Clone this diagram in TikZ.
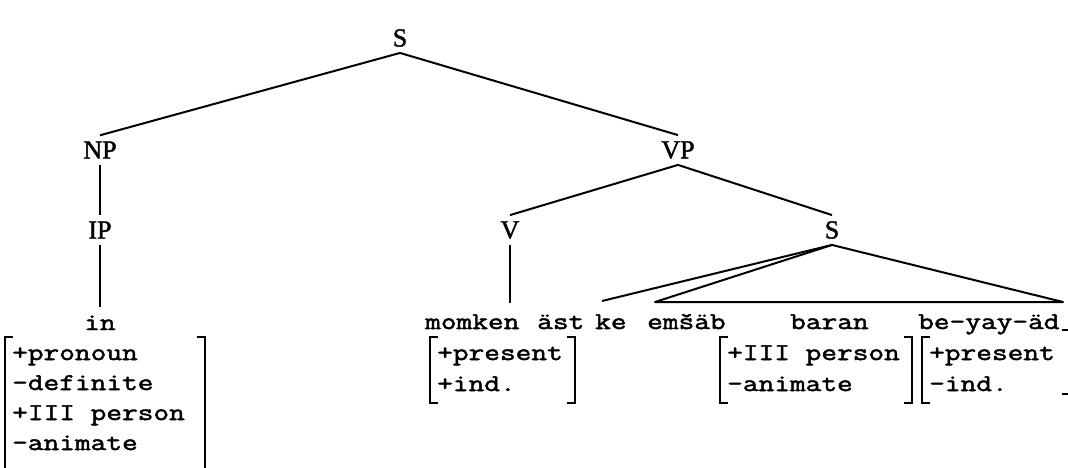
\documentclass[tikz,border=0pt]{standalone}
\usepackage{fontspec}
\newfontfamily\twfont[FakeStretch=1.27,FakeBold=2]{Latin Modern Mono}
\newfontfamily\labfont[FakeBold=1.5]{Liberation Serif}
\tikzset{
  lab/.style={font=\labfont\fontsize{26}{26}\selectfont, inner sep=6pt},
  tw/.style={font=\twfont\fontsize{24}{24}\selectfont, inner sep=0pt, anchor=base west},
  twc/.style={font=\twfont\fontsize{24}{24}\selectfont, inner sep=0pt, anchor=base},
  ln/.style={line width=2pt},
  br/.style={line width=1.7pt},
}
\newcommand{\lbrk}[3]{\draw[br] (#1+8,#2) -- (#1,#2) -- (#1,#3) -- (#1+8,#3);}
\newcommand{\rbrk}[3]{\draw[br] (#1-8,#2) -- (#1,#2) -- (#1,#3) -- (#1-8,#3);}
\begin{document}
\begin{tikzpicture}[x=1pt,y=-1pt]
\useasboundingbox[fill=white] (0,0) rectangle (1068,467);
% tree labels
\node[lab] (s) at (400,38) {S};
\node[lab] (np) at (100,150) {NP};
\node[lab] (vp) at (678,150) {VP};
\node[lab] (ip) at (100,230) {IP};
\node[lab] (v) at (510,230) {V};
\node[lab] (s2) at (832,230) {S};
% words
\node[twc] (in) at (100,330) {in};
\node[tw] (momken) at (425,329) {momken};
\node[tw] (ast) at (537,329) {äst};
\node[tw] (ke) at (595,329) {ke};
\node[tw] (emsab) at (647,329) {emšäb};
\node[tw] (baran) at (790,329) {baran};
\node[tw] (beyayad) at (918,329) {be-yay-äd};
% line ends
\coordinate (infoot) at (100,307);
\coordinate (vfoot) at (510,303);
\coordinate (kek) at (602,301);
\coordinate (tl) at (655,302);
\coordinate (tr) at (1063,302);
% connectors
\draw[ln] (s.south) -- (np.north);
\draw[ln] (s.south) -- (vp.north);
\draw[ln] (np.south) -- (ip.north);
\draw[ln] (ip.south) -- (infoot);
\draw[ln] (vp.south) -- (v.north);
\draw[ln] (vp.south) -- (s2.north);
\draw[ln] (v.south) -- (vfoot);
\draw[ln] (s2.south) -- (kek);
\draw[ln,line join=round] (s2.south) -- (tl) -- (tr) -- cycle;
% feature matrix under "in"
\lbrk{5}{337}{472}
\rbrk{205}{337}{472}
\node[tw] (f1) at (12,360) {+pronoun};
\node[tw] (f2) at (12,390) {-definite};
\node[tw] (f3) at (12,420) {+III person};
\node[tw] (f4) at (12,450) {-animate};
% matrix under momken
\lbrk{430}{337}{403}
\rbrk{575}{337}{403}
\node[tw] (g1) at (437,360) {+present};
\node[tw] (g2) at (437,391) {+ind.};
% matrix under baran
\lbrk{720}{337}{403}
\rbrk{912}{337}{403}
\node[tw] (h1) at (727,360) {+III person};
\node[tw] (h2) at (727,391) {-animate};
% matrix under be-yay-ad
\lbrk{922}{337}{403}
\rbrk{1070}{330}{394}
\node[tw] (k1) at (929,360) {+present};
\node[tw] (k2) at (929,391) {-ind.};
\end{tikzpicture}
\end{document}
